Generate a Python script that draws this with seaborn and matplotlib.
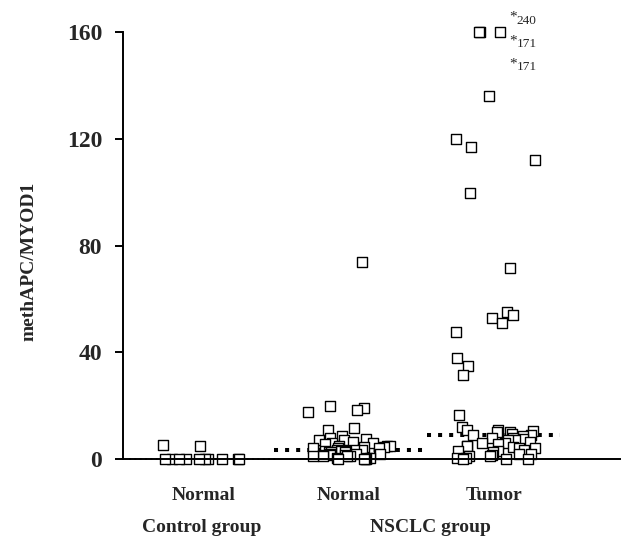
import matplotlib
matplotlib.use("Agg")
import matplotlib.pyplot as plt
import numpy as np
import pandas as pd
import seaborn as sns

# values
control_normal = [0, 0, 0, 0, 0, 0, 0, 0, 0, 0, 5.2, 4.9]
nsclc_normal = [74, 20, 19, 18.5, 17.5, 11.5, 11, 8.6, 8, 7.5, 7, 7, 6.5, 6,
                6, 5.5, 5, 5, 5, 4.5, 4.5, 4, 4, 4, 3.5, 3.5, 3.5, 3, 3, 3,
                2.5, 2.5, 2.5, 2, 2, 2, 1.5, 1.5, 1.5, 1, 1, 1, 1, 0.5, 0.5,
                0.5, 0, 0, 0, 0]
nsclc_tumor = [240, 171, 171, 136, 120, 117, 112, 99.6, 71.5, 55, 54, 53, 51,
               47.6, 38, 35, 31.5, 16.5, 12, 11, 11, 10.5, 10, 10, 9.5, 9, 9,
               8.5, 8, 8, 7.5, 7, 7, 6.5, 6, 6, 5.5, 5, 5, 4.5, 4, 4, 3.5, 3,
               3, 2.5, 2, 2, 1.5, 1, 1, 0.5, 0.5, 0, 0, 0]
medians = [0, 3.4, 9]
off_scale = [240, 171, 171]

categories = ["ctrl", "nsclc_normal", "tumor"]
tick_labels = ["Normal", "Normal", "Tumor"]
group_labels = ["Control group", "NSCLC group"]
y_ticks = [0, 40, 80, 120, 160]
y_max = 160

df = pd.DataFrame({
    "group": (["ctrl"] * len(control_normal)
              + ["nsclc_normal"] * len(nsclc_normal)
              + ["tumor"] * len(nsclc_tumor)),
    "value": control_normal + nsclc_normal + nsclc_tumor,
})
df["shown"] = df["value"].clip(upper=y_max)

sns.set_style("white")
plt.rcParams["font.family"] = ["Liberation Serif", "DejaVu Serif"]
plt.rcParams["font.weight"] = "bold"

fig = plt.figure(figsize=(6.21, 5.37), dpi=100)
ax = fig.add_axes([0.198, 0.1453, 0.80, 0.795])

np.random.seed(3)
sns.stripplot(data=df, x="group", y="shown", order=categories, jitter=0.3,
              marker="s", size=7.2, color="white", edgecolor="black",
              linewidth=1.0, clip_on=False, zorder=3, ax=ax)

# dotted median lines (the control one mostly sits under the x axis)
for i, m in enumerate(medians):
    half = 0.46 if i == 2 else 0.52
    lw = 1.4 if m == 0 else 2.9
    ax.plot([i - half, i + half], [m, m], color="black", lw=lw,
            linestyle=(0, (1, 1.75)), zorder=2, clip_on=False)

# labels for the points that are above the scale
for k, v in enumerate(off_scale):
    ax.text(2.105, 165.5 - k * 8.7, "*", fontsize=11, fontweight="normal",
            ha="left", va="center", clip_on=False)
    ax.text(2.16, 164.3 - k * 8.7, str(v), fontsize=9.5, fontweight="normal",
            ha="left", va="center", clip_on=False)

ax.set_xlim(-0.56, 2.87)
ax.set_ylim(0, y_max)
ax.set_yticks(y_ticks)
ax.set_yticklabels([str(t) for t in y_ticks], fontsize=17, fontweight="bold")
ax.set_xticks(range(len(categories)))
ax.set_xticklabels(tick_labels, fontsize=14, fontweight="bold")
ax.tick_params(axis="y", direction="out", length=6, width=1.4, pad=9,
               left=True, color="black")
ax.tick_params(axis="x", length=0, pad=20)
ax.set_xlabel("")
ax.set_ylabel("methAPC/MYOD1", fontsize=14, fontweight="bold")
ax.yaxis.set_label_coords(-0.173, 0.464)

for side in ["top", "right"]:
    ax.spines[side].set_visible(False)
for side in ["left", "bottom"]:
    ax.spines[side].set_color("black")
    ax.spines[side].set_linewidth(1.4)
    ax.spines[side].set_zorder(4)

fig.text(202 / 621, 1 - 528 / 537, group_labels[0], fontsize=14,
         fontweight="bold", ha="center", va="center")
fig.text(430 / 621, 1 - 528 / 537, group_labels[1], fontsize=14,
         fontweight="bold", ha="center", va="center")

fig.savefig("out.png", dpi=100)
